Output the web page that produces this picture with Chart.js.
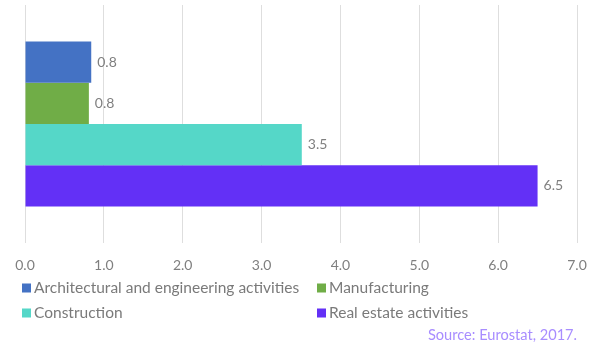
<!DOCTYPE html>
<html>
<head>
<meta charset="utf-8">
<script src="https://cdn.jsdelivr.net/npm/chart.js@4/dist/chart.umd.min.js"></script>
<style>
  html, body { margin: 0; padding: 0; background: #ffffff; }
  #wrap { width: 603px; height: 346px; position: relative; }
</style>
</head>
<body>
<div id="wrap"><canvas id="c" width="603" height="346"></canvas></div>
<script>
const categories = [''];
const seriesNames = ['Architectural and engineering activities', 'Manufacturing', 'Construction', 'Real estate activities'];
const seriesValues = [[0.84], [0.81], [3.51], [6.5]];
const seriesColors = ['#4472c4', '#70ad47', '#55d7c8', '#6330f6'];
const xTicks = [0, 1, 2, 3, 4, 5, 6, 7];
const sourceText = 'Source: Eurostat, 2017.';

const FONT = 'Lato, "Open Sans", sans-serif';

const overlay = {
  id: 'overlay',
  afterDatasetsDraw(chart) {
    const ctx = chart.ctx;
    ctx.save();
    ctx.font = '14px ' + FONT;
    ctx.fillStyle = '#7f7f7f';
    ctx.textAlign = 'left';
    ctx.textBaseline = 'middle';
    chart.data.datasets.forEach((ds, i) => {
      const meta = chart.getDatasetMeta(i);
      meta.data.forEach((bar, j) => {
        ctx.fillText(ds.data[j].toFixed(1), bar.x + 6, bar.y);
      });
    });
    // legend
    const cols = [22, 317];
    const rows = [288, 313];
    ctx.font = '15.5px ' + FONT;
    chart.data.datasets.forEach((ds, i) => {
      const cx = cols[i % 2];
      const cy = rows[Math.floor(i / 2)];
      ctx.fillStyle = ds.backgroundColor;
      ctx.fillRect(cx, cy - 4.5, 9, 9);
      ctx.fillStyle = '#7a7a7a';
      ctx.fillText(ds.label, cx + 12, cy);
    });
    // source
    ctx.font = '14.6px ' + FONT;
    ctx.fillStyle = '#a88dff';
    ctx.textAlign = 'right';
    ctx.fillText(sourceText, 577, 335);
    ctx.restore();
  }
};

new Chart(document.getElementById('c'), {
  type: 'bar',
  data: {
    labels: categories,
    datasets: seriesNames.map((name, i) => ({
      label: name,
      data: seriesValues[i],
      backgroundColor: seriesColors[i],
      borderWidth: 0,
      barPercentage: 1.0,
      categoryPercentage: 0.693
    }))
  },
  options: {
    indexAxis: 'y',
    responsive: false,
    animation: false,
    devicePixelRatio: 1,
    layout: { padding: { top: 5, left: 25, right: 26, bottom: 0 } },
    plugins: {
      legend: { display: false },
      tooltip: { enabled: false },
      title: { display: false }
    },
    scales: {
      y: { display: false },
      x: {
        min: 0,
        max: 7,
        afterFit(scale) { scale.height = 103; },
        afterBuildTicks(scale) { scale.ticks = xTicks.map(v => ({ value: v })); },
        ticks: {
          padding: 14,
          color: '#7f7f7f',
          font: { family: FONT, size: 14 },
          callback: (v) => Number(v).toFixed(1),
          maxRotation: 0
        },
        grid: { color: '#dedede', lineWidth: 1, drawTicks: false },
        border: { display: false }
      }
    }
  },
  plugins: [overlay]
});
</script>
</body>
</html>
